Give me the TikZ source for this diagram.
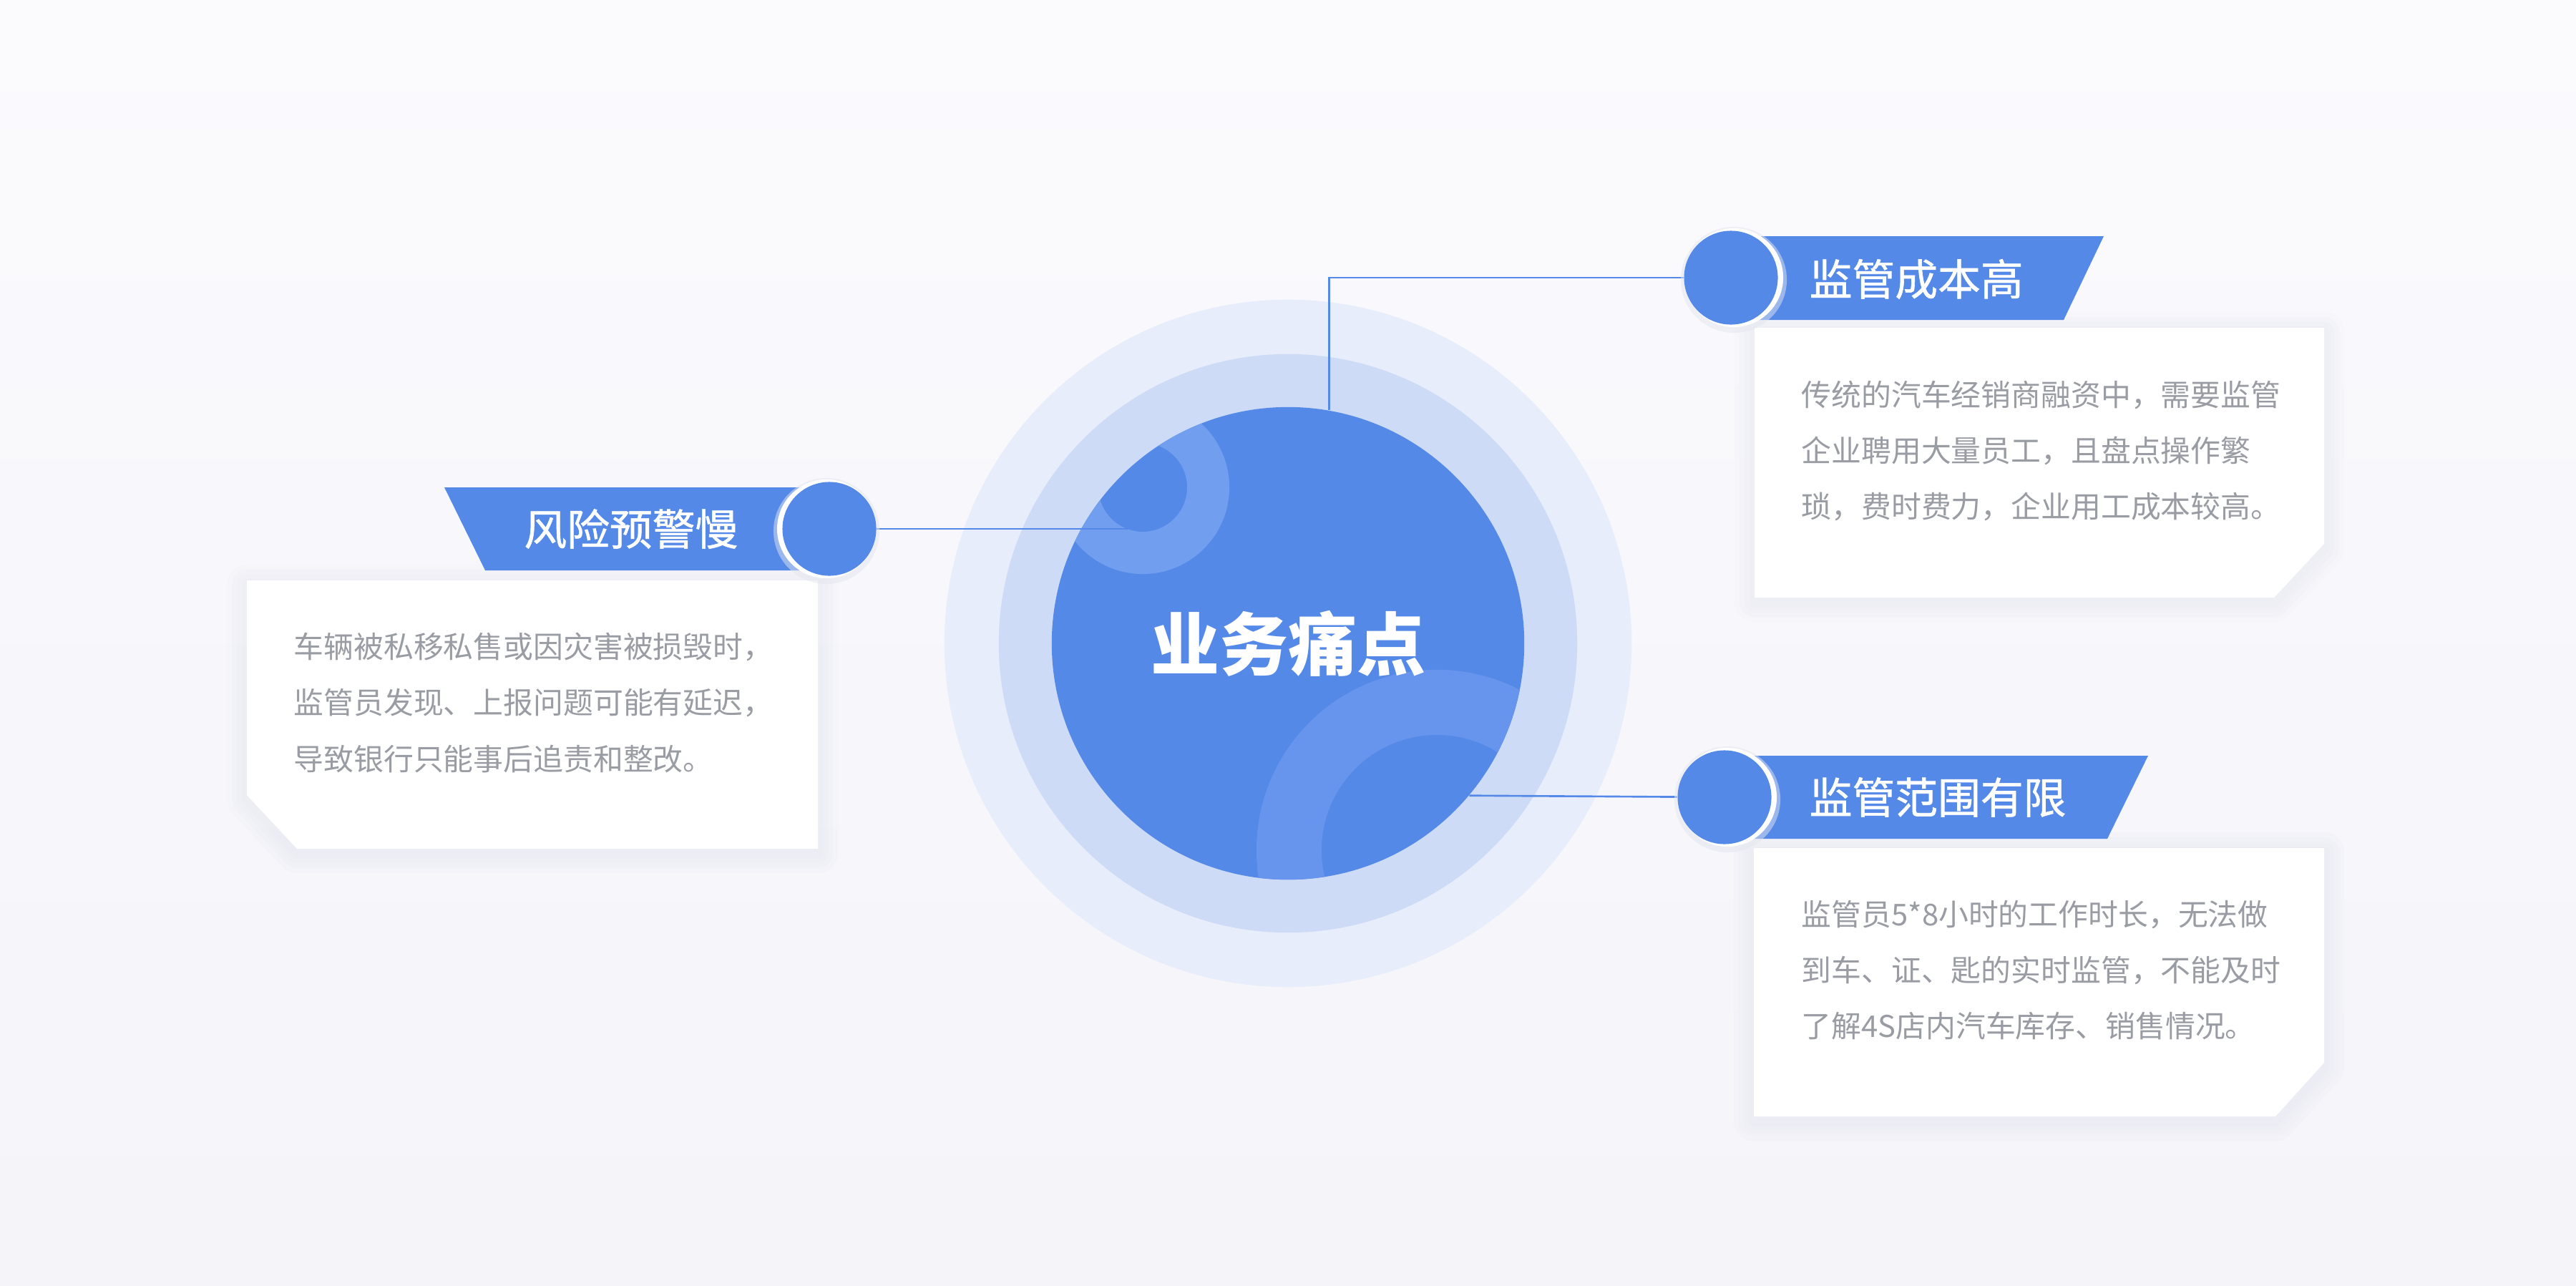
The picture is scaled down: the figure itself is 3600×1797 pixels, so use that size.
\documentclass[tikz,border=0pt]{standalone}
\usepackage{fontspec}
\newfontfamily\cjk{Noto Sans CJK SC}
\newfontfamily\cjkmed{Noto Sans CJK SC}[FakeBold=1]
\pgfdeclarelayer{bg}
\pgfdeclarelayer{mid}
\pgfsetlayers{bg,mid,main}
\definecolor{bluemain}{HTML}{5589E8}
\definecolor{ringout}{HTML}{E7EDFA}
\definecolor{ringmid}{HTML}{CDDBF6}
\definecolor{decoA}{HTML}{729EEF}
\definecolor{decoB}{HTML}{6794EC}
\definecolor{textgrey}{HTML}{9A9CA3}
\definecolor{bgtop}{HTML}{FBFBFE}
\definecolor{bgbot}{HTML}{F4F4F9}
\definecolor{shadowc}{HTML}{E4E6EF}
\begin{document}
\begin{tikzpicture}[x=0.01cm,y=-0.01cm,
  link/.style={draw=bluemain, line width=0.75pt},
  bannertext/.style={text=white, font=\cjkmed\fontsize{17pt}{20pt}\selectfont, inner sep=0pt},
  bodytext/.style={text=textgrey, font=\cjk\fontsize{11.9pt}{22.2pt}\selectfont, align=left, inner sep=0pt},
  badge/.style={circle, fill=bluemain, minimum size=1.31cm, inner sep=0pt},
  bannerfill/.style={fill=bluemain},
  cardfill/.style={fill=white},
  cardshadow/.style={draw=shadowc, line join=round, opacity=0.14},
  disk/.style={circle, inner sep=0pt},
  ]
\useasboundingbox (0,0) rectangle (3600,1797);
\begin{pgfonlayer}{bg}
\shade[top color=bgtop, bottom color=bgbot] (0,0) rectangle (3600,1797);
\node[disk, fill=ringout, minimum size=9.6cm] (halo) at (1800,899) {};
\node[disk, fill=ringmid, minimum size=8.08cm] (ring) at (1800,899) {};
\node[disk, fill=bluemain, minimum size=6.6cm] (core) at (1800,899) {};
\begin{scope}
\clip (1800,899) circle [radius=3.3cm];
\fill[decoA, even odd rule] (1597,681) circle [radius=1.21cm] (1597,681) circle [radius=0.62cm];
\fill[decoB, even odd rule] (2008,1188) circle [radius=2.52cm] (2008,1188) circle [radius=1.61cm];
\end{scope}
\node[text=white, font=\cjk\bfseries\fontsize{27.3pt}{30pt}\selectfont, inner sep=0pt] (title) at (core) {业务痛点};
\end{pgfonlayer}

% cards
\foreach \w in {16pt,12pt,8pt,4pt}{
  \draw[cardshadow, line width=\w] (2452,464) -- (3248,464) -- (3248,766) -- (3178,841) -- (2452,841) -- cycle;
  \draw[cardshadow, line width=\w] (2451,1191) -- (3248,1191) -- (3248,1491) -- (3180,1566) -- (2451,1566) -- cycle;
  \draw[cardshadow, line width=\w] (345,817) -- (1143,817) -- (1143,1192) -- (415,1192) -- (345,1117) -- cycle;
}
\fill[cardfill] (2452,458) -- (3248,458) -- (3248,760) -- (3178,835) -- (2452,835) -- cycle;
\fill[cardfill] (2451,1185) -- (3248,1185) -- (3248,1485) -- (3180,1560) -- (2451,1560) -- cycle;
\fill[cardfill] (345,811) -- (1143,811) -- (1143,1186) -- (415,1186) -- (345,1111) -- cycle;

\node[bodytext, anchor=west] (d1) at (2517,630) {传统的汽车经销商融资中，需要监管\\企业聘用大量员工，且盘点操作繁\\琐，费时费力，企业用工成本较高。};
\node[bodytext, anchor=west] (d2) at (410,982) {车辆被私移私售或因灾害被损毁时，\\监管员发现、上报问题可能有延迟，\\导致银行只能事后追责和整改。};
\node[bodytext, anchor=west] (d3) at (2517,1356) {监管员5*8小时的工作时长，无法做\\到车、证、匙的实时监管，不能及时\\了解4S店内汽车库存、销售情况。};

% banners
\fill[bannerfill] (2423,330) -- (2940,330) -- (2884,447) -- (2423,447) -- cycle;
\fill[bannerfill] (2414,1056) -- (3002,1056) -- (2945,1172) -- (2414,1172) -- cycle;
\fill[bannerfill] (621,681) -- (1155,681) -- (1155,797) -- (678,797) -- cycle;

% badge halos
\fill[shadowc, opacity=0.5] (2423,391) circle [radius=0.74cm];
\fill[shadowc, opacity=0.5] (2414,1117) circle [radius=0.74cm];
\fill[shadowc, opacity=0.5] (1155,742) circle [radius=0.74cm];
\fill[white] (2423,388) circle [radius=0.69cm];
\fill[white] (2414,1114) circle [radius=0.69cm];
\fill[white] (1155,739) circle [radius=0.69cm];
\node[badge] (b1) at (2419,388) {};
\node[badge] (b3) at (2410,1114) {};
\node[badge] (b2) at (1159,739) {};

\node[bannertext, anchor=west] (t1) at (2528,390) {监管成本高};
\node[bannertext, anchor=west] (t3) at (2528,1114) {监管范围有限};
\node[bannertext, anchor=east] (t2) at (1032,739) {风险预警慢};

% connectors
\coordinate (k2) at (1581,739);
\begin{pgfonlayer}{mid}
\draw[link] (core.80.8) |- (b1);
\draw[link] (core.-40.7) -- (b3);
\draw[link] (b2) -- (k2);
\end{pgfonlayer}
\end{tikzpicture}
\end{document}
